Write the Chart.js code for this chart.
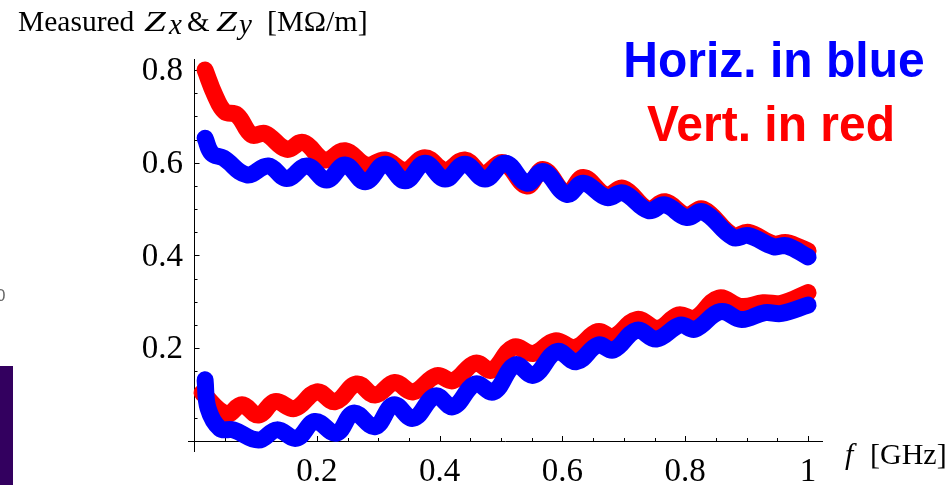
<!DOCTYPE html>
<html><head><meta charset="utf-8">
<script src="https://cdn.jsdelivr.net/npm/chart.js@4.4.0/dist/chart.umd.min.js"></script>
<style>
html,body{margin:0;padding:0;background:#fff;}
#wrap{position:relative;width:949px;height:485px;overflow:hidden;background:#fff;}
#c{position:absolute;left:0;top:0;}
.s{position:absolute;white-space:nowrap;font-family:"Liberation Serif","Times New Roman",serif;color:#000;line-height:1;}
.i{font-style:italic;}
.leg{position:absolute;white-space:nowrap;font-family:"Liberation Sans",Arial,sans-serif;font-weight:bold;font-size:48px;line-height:1;text-align:center;width:400px;transform:scaleY(1.05);transform-origin:50% 85%;}
</style></head><body>
<div id="wrap">
<canvas id="c" width="949" height="485"></canvas>
<div style="position:absolute;left:0;top:366px;width:13px;height:119px;background:#33005f;"></div>
<div style="position:absolute;left:-4px;top:287px;font-family:'Liberation Sans',Arial,sans-serif;font-size:17px;line-height:1;color:#666;">0</div>
<div class="s" style="left:18px;top:7px;font-size:29.5px;">Measured</div>
<div class="s i" style="left:144px;top:7px;font-size:29px;transform:scaleX(1.35);transform-origin:0 0;">Z</div>
<div class="s i" style="left:169px;top:10px;font-size:29px;">x</div>
<div class="s" style="left:187px;top:7px;font-size:29px;">&amp;</div>
<div class="s i" style="left:216px;top:7px;font-size:29px;transform:scaleX(1.3);transform-origin:0 0;">Z</div>
<div class="s i" style="left:239px;top:10px;font-size:29px;">y</div>
<div class="s" style="left:267px;top:6px;font-size:30px;">[MΩ/m]</div>
<div class="s i" style="left:845px;top:439px;font-size:30px;">f</div>
<div class="s" style="left:870px;top:439px;font-size:30px;">[GHz]</div>
<div class="leg" style="left:574px;top:37px;color:#0000ff;">Horiz. in blue</div>
<div class="leg" style="left:571px;top:101px;color:#ff0000;">Vert. in red</div>
</div>
<script>
// ---- data (f in GHz, Z in MOhm/m) ----
const redUpperF = [0.018,0.034,0.050,0.070,0.094,0.116,0.151,0.178,0.213,0.246,0.281,0.311,0.344,0.376,0.409,0.441,0.471,0.504,0.542,0.569,0.607,0.634,0.672,0.699,0.740,0.767,0.802,0.829,0.878,0.903,0.944,0.965,1.0];
const redUpperZ = [0.800,0.746,0.710,0.703,0.660,0.663,0.629,0.644,0.606,0.626,0.595,0.606,0.584,0.611,0.584,0.606,0.577,0.600,0.550,0.585,0.534,0.568,0.530,0.545,0.500,0.516,0.487,0.500,0.443,0.450,0.425,0.428,0.410];
const blueUpperF = [0.018,0.029,0.048,0.086,0.121,0.151,0.184,0.216,0.246,0.279,0.311,0.344,0.376,0.409,0.441,0.474,0.507,0.542,0.569,0.607,0.634,0.672,0.699,0.740,0.767,0.802,0.829,0.878,0.903,0.944,0.965,1.0];
const blueUpperZ = [0.653,0.620,0.610,0.574,0.593,0.566,0.593,0.563,0.595,0.559,0.597,0.561,0.599,0.565,0.597,0.565,0.599,0.556,0.581,0.532,0.556,0.525,0.535,0.497,0.509,0.482,0.494,0.439,0.443,0.419,0.421,0.397];
const redLowerF = [0.013,0.053,0.078,0.105,0.132,0.164,0.200,0.230,0.265,0.295,0.327,0.357,0.395,0.422,0.458,0.485,0.520,0.553,0.588,0.621,0.658,0.683,0.721,0.756,0.789,0.816,0.854,0.892,0.927,0.957,1.0];
const redLowerZ = [0.104,0.058,0.078,0.056,0.085,0.070,0.106,0.085,0.123,0.099,0.126,0.106,0.141,0.130,0.168,0.153,0.202,0.189,0.216,0.202,0.236,0.225,0.262,0.243,0.272,0.265,0.308,0.290,0.298,0.297,0.320];
const blueLowerF = [0.018,0.023,0.042,0.064,0.105,0.135,0.167,0.197,0.232,0.260,0.295,0.325,0.357,0.393,0.422,0.458,0.488,0.523,0.553,0.591,0.623,0.658,0.683,0.721,0.753,0.792,0.816,0.857,0.892,0.930,0.957,1.0];
const blueLowerZ = [0.132,0.070,0.027,0.024,0.002,0.024,0.006,0.042,0.017,0.060,0.031,0.078,0.049,0.097,0.074,0.123,0.106,0.164,0.142,0.193,0.171,0.207,0.196,0.239,0.220,0.250,0.241,0.279,0.262,0.277,0.275,0.293];

const xMajorTicks = [0.2,0.4,0.6,0.8,1.0];
const xTickLabels = ['0.2','0.4','0.6','0.8','1'];
const xMinorTicks = [0.05,0.1,0.15,0.25,0.3,0.35,0.45,0.5,0.55,0.65,0.7,0.75,0.85,0.9,0.95];
const yMajorTicks = [0.2,0.4,0.6,0.8];
const yTickLabels = ['0.2','0.4','0.6','0.8'];
const yMinorTicks = [0.05,0.1,0.15,0.25,0.3,0.35,0.45,0.5,0.55,0.65,0.7,0.75];

function pts(fs, zs){ return fs.map((f,i)=>({x:f, y:zs[i]})); }

const axesPlugin = {
  id:'mmaAxes',
  beforeDatasetsDraw(chart){
    const {ctx, chartArea:a, scales:{x, y}} = chart;
    const x0 = x.getPixelForValue(0), y0 = y.getPixelForValue(0);
    ctx.save();
    ctx.strokeStyle = '#000';
    ctx.lineWidth = 1;
    ctx.beginPath();
    ctx.moveTo(a.left, Math.round(y0)+0.5); ctx.lineTo(a.right, Math.round(y0)+0.5);
    ctx.moveTo(Math.round(x0)+0.5, a.top); ctx.lineTo(Math.round(x0)+0.5, a.bottom);
    xMajorTicks.forEach(v=>{const p=Math.round(x.getPixelForValue(v))+0.5; ctx.moveTo(p,y0); ctx.lineTo(p,y0-5);});
    xMinorTicks.forEach(v=>{const p=Math.round(x.getPixelForValue(v))+0.5; ctx.moveTo(p,y0); ctx.lineTo(p,y0-3);});
    yMajorTicks.forEach(v=>{const p=Math.round(y.getPixelForValue(v))+0.5; ctx.moveTo(x0,p); ctx.lineTo(x0+5.5,p);});
    yMinorTicks.forEach(v=>{const p=Math.round(y.getPixelForValue(v))+0.5; ctx.moveTo(x0,p); ctx.lineTo(x0+3.5,p);});
    ctx.stroke();
    ctx.fillStyle = '#000';
    ctx.font = '33px "Liberation Serif", "Times New Roman", serif';
    ctx.textBaseline = 'alphabetic';
    ctx.textAlign = 'center';
    xMajorTicks.forEach((v,i)=>{ ctx.fillText(xTickLabels[i], x.getPixelForValue(v), 481); });
    ctx.textAlign = 'right';
    yMajorTicks.forEach((v,i)=>{ ctx.fillText(yTickLabels[i], x0-11, y.getPixelForValue(v)+10); });
    ctx.restore();
  }
};

const common = {borderWidth:17, borderCapStyle:'round', borderJoinStyle:'round', tension:0.4, pointRadius:0, fill:false, clip:false};

new Chart(document.getElementById('c'), {
  type:'line',
  data:{datasets:[
    Object.assign({label:'Horiz. upper', data:pts(blueUpperF, blueUpperZ), borderColor:'#0000ff', order:0}, common),
    Object.assign({label:'Horiz. lower', data:pts(blueLowerF, blueLowerZ), borderColor:'#0000ff', order:0}, common),
    Object.assign({label:'Vert. upper', data:pts(redUpperF, redUpperZ), borderColor:'#ff0000', order:1}, common),
    Object.assign({label:'Vert. lower', data:pts(redLowerF, redLowerZ), borderColor:'#ff0000', order:1}, common)
  ]},
  options:{
    responsive:false, animation:false, devicePixelRatio:1,
    layout:{padding:{left:188, right:126, top:59, bottom:33}},
    plugins:{legend:{display:false}, tooltip:{enabled:false}, title:{display:false}},
    scales:{
      x:{type:'linear', min:-0.0098, max:1.0244, display:false},
      y:{type:'linear', min:-0.0237, max:0.8237, display:false}
    }
  },
  plugins:[axesPlugin]
});
</script>
</body></html>
